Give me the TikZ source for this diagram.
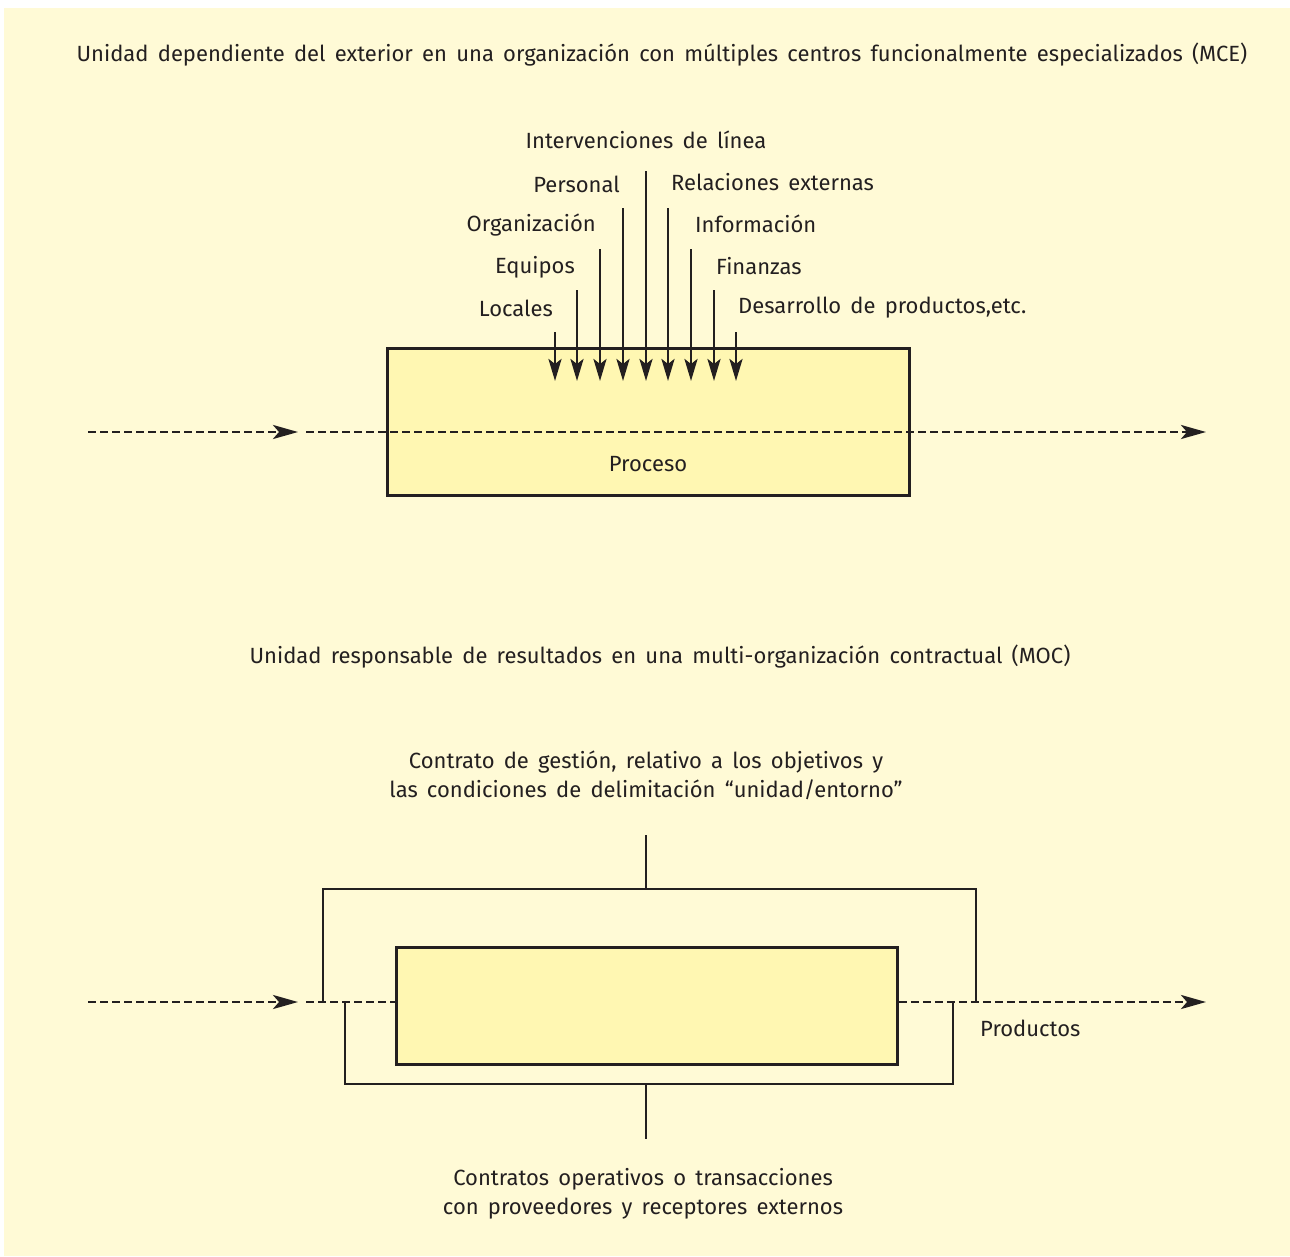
\documentclass[tikz,border=0pt]{standalone}
\usepackage{fontspec}
\setmainfont{Fira Sans}
\usetikzlibrary{arrows.meta}
\definecolor{bg}{RGB}{255,250,214}
\definecolor{boxfill}{RGB}{255,247,178}
\definecolor{ink}{RGB}{35,31,32}
\newcommand{\lblfont}{\fontsize{22}{29}\selectfont\spaceskip=0.42em plus 0.1em minus 0.05em\relax}
\tikzset{
  lbl/.style={font=\lblfont, text=ink, inner sep=0pt},
  ln/.style={draw=ink, line width=2.8pt},
  flow/.style={draw=ink, line width=2.8pt, dash pattern=on 8pt off 4pt},
  bigtip/.style={-{Stealth[length=25pt,width=14pt,inset=6pt]}},
  smalltip/.style={-{Stealth[length=22pt,width=13pt,inset=5pt]}},
  procbox/.style={draw=ink, line width=2.8pt, fill=boxfill},
}
\begin{document}
\begin{tikzpicture}[x=1pt,y=-1pt]
\useasboundingbox (0,0) rectangle (1290,1256);
\fill[bg] (4,8) rectangle (1290,1256);

% ---------- top part ----------
\node[lbl] (t1) at (662,55) {Unidad dependiente del exterior en una organización con múltiples centros funcionalmente especializados (MCE)};

\node[procbox, minimum width=522pt, minimum height=147pt, anchor=north west] (proc) at (386,347) {};
\node[lbl] (proclbl) at (648,464) {Proceso};

\coordinate (f1s) at (88,432);
\coordinate (f1a) at (298,432);
\coordinate (f1b) at (306,432);
\coordinate (f1e) at (1206,432);
\draw[flow, bigtip] (f1s) -- (f1a);
\draw[flow, bigtip] (f1b) -- (f1e);

% input labels
\node[lbl, anchor=east] (lLoc) at (553,308) {Locales};
\node[lbl, anchor=east] (lEqu) at (575,267) {Equipos};
\node[lbl, anchor=east] (lOrg) at (596,225) {Organización};
\node[lbl, anchor=east] (lPer) at (620,184) {Personal};
\node[lbl] (lInt) at (646,140) {Intervenciones de línea};
\node[lbl, anchor=west] (lRel) at (671,182) {Relaciones externas};
\node[lbl, anchor=west] (lInf) at (695,224) {Información};
\node[lbl, anchor=west] (lFin) at (716,266) {Finanzas};
\node[lbl, anchor=west] (lDes) at (738,308) {Desarrollo de productos,etc.};

% input arrows
\foreach \n/\x/\y in {a1/555/332, a2/577/290, a3/600/249, a4/623/208, a5/646/171, a6/668/208, a7/691/249, a8/714/290, a9/736/332}{
  \coordinate (\n s) at (\x,\y);
  \coordinate (\n e) at (\x,381);
  \draw[ln, smalltip] (\n s) -- (\n e);
}

% ---------- bottom part ----------
\node[lbl] (t2) at (660,657) {Unidad responsable de resultados en una multi-organización contractual (MOC)};

\node[lbl, align=center] (gest) at (646,775) {Contrato de gestión, relativo a los objetivos y\\las condiciones de delimitación “unidad/entorno”};

\node[procbox, minimum width=501pt, minimum height=117pt, anchor=north west] (unit) at (395,946) {};

\coordinate (gtop) at (646,835);
\coordinate (gmid) at (646,889);
\coordinate (oL) at (323,1002);
\coordinate (oR) at (976,1002);
\draw[ln] (gtop) -- (gmid);
\draw[ln, line join=miter] (oL) |- (gmid) -| (oR);

\coordinate (bbot) at (646,1139);
\coordinate (bmid) at (646,1084);
\coordinate (iL) at (345,1002);
\coordinate (iR) at (953,1002);
\draw[ln] (bmid) -- (bbot);
\draw[ln, line join=miter] (iL) |- (bmid) -| (iR);

\coordinate (f2s) at (88,1002);
\coordinate (f2a) at (298,1002);
\coordinate (f2b) at (306,1002);
\coordinate (f2e) at (1206,1002);
\draw[flow, bigtip] (f2s) -- (f2a);
\draw[flow] (f2b) -- (unit.west |- f2b);
\draw[flow, bigtip] (unit.east |- f2b) -- (f2e);

\node[lbl, anchor=west] (prod) at (980,1028) {Productos};

\node[lbl, align=center] (oper) at (643,1194) {Contratos operativos o transacciones\\con proveedores y receptores externos};
\end{tikzpicture}
\end{document}
